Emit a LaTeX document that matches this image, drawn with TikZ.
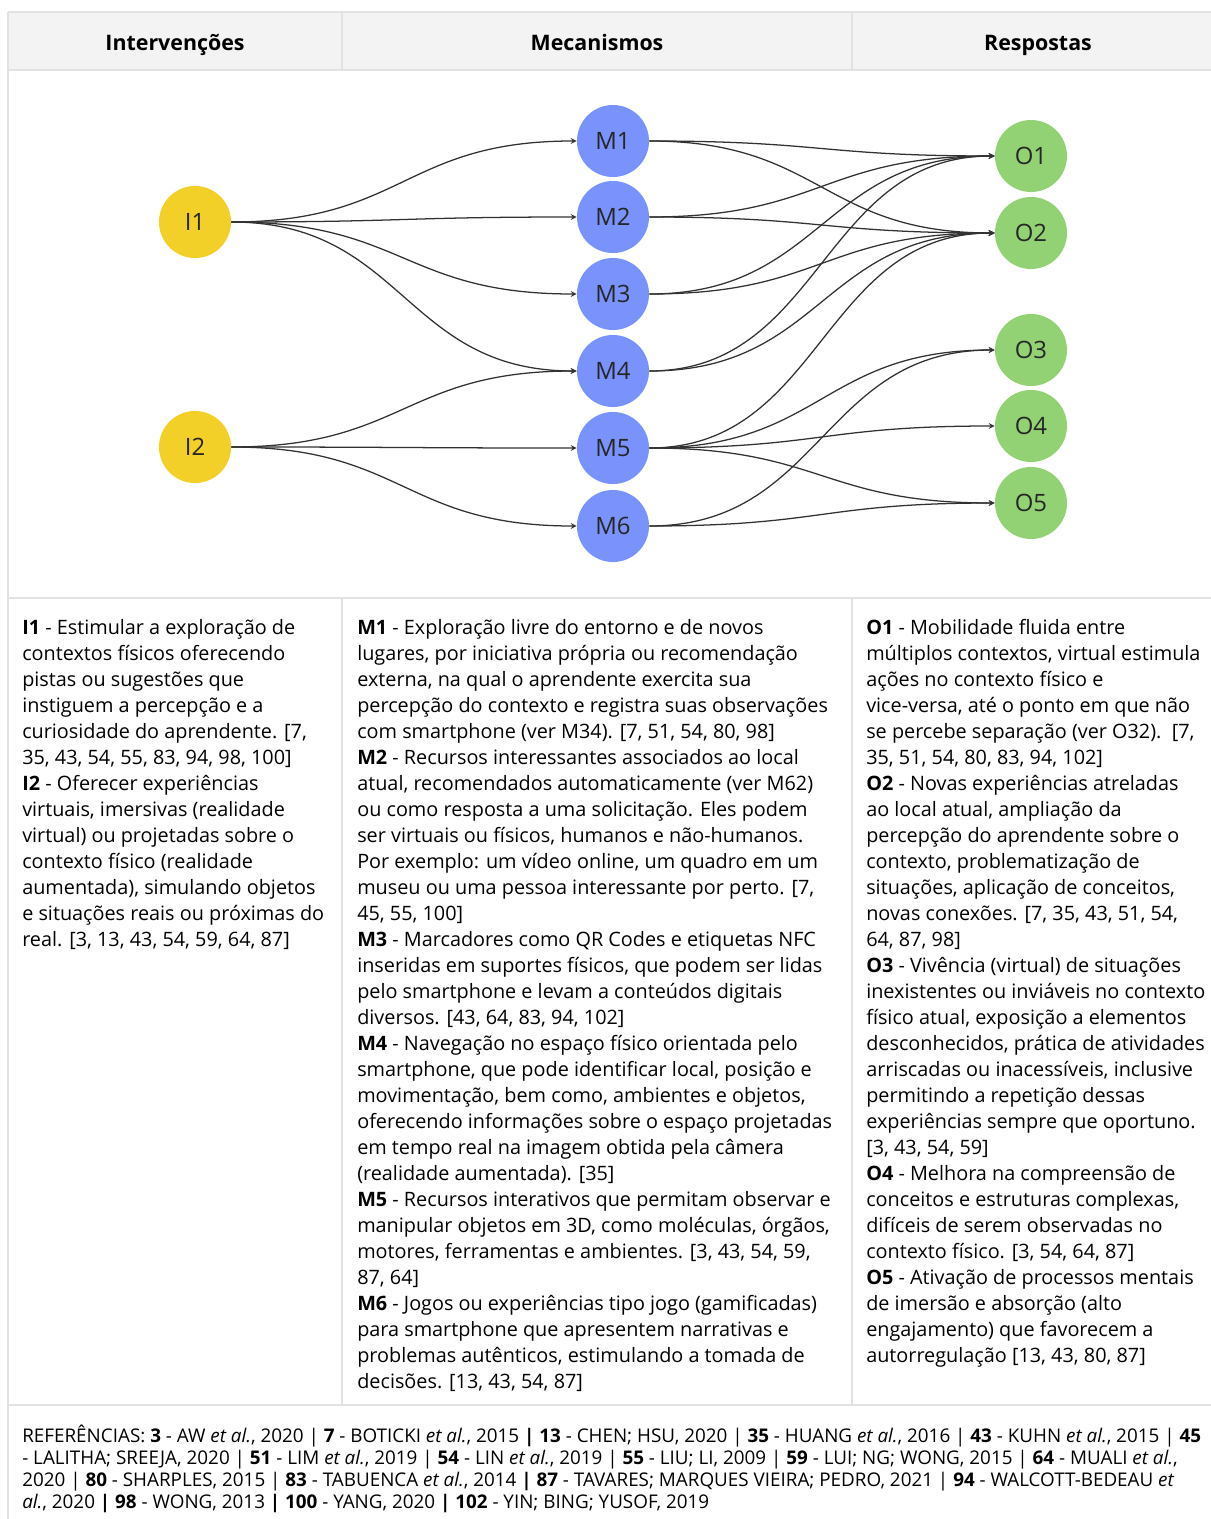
\documentclass[tikz,border=0pt]{standalone}
\usepackage{fontspec}
\setmainfont{Open Sans}
\usetikzlibrary{arrows}

\definecolor{interv}{RGB}{242,208,39}
\definecolor{mecan}{RGB}{122,146,252}
\definecolor{resp}{RGB}{147,210,116}
\definecolor{gridgray}{RGB}{226,226,226}
\definecolor{headgray}{RGB}{243,243,243}
\definecolor{linkgray}{RGB}{50,50,50}

\newcommand{\bodyfont}{\fontsize{14.1}{18.5}\selectfont}

\begin{document}
\begin{tikzpicture}[x=0.025cm,y=-0.025cm,
  bubble/.style={circle,minimum size=1.8cm,inner sep=0pt,
    font=\fontsize{17}{19}\selectfont,text=black!85},
  flow/.style={draw=linkgray,line width=0.9pt,-stealth},
  desc/.style={anchor=north west,align=left,inner sep=0pt,font=\bodyfont},
  headtxt/.style={anchor=base,font=\fontsize{15.2}{18}\selectfont\bfseries}
  ]
\useasboundingbox (0,0) rectangle (1210,1519);

% table
\fill[headgray] (8,12) rectangle (1212,70);
\draw[gridgray,line width=2pt]
  (8,12) -- (1212,12)
  (8,70) -- (1212,70)
  (8,598) -- (1212,598)
  (8,1405) -- (1212,1405)
  (8,12) -- (8,1519)
  (342,12) -- (342,70)
  (852,12) -- (852,70)
  (342,598) -- (342,1405)
  (852,598) -- (852,1405);

\node[headtxt] (h1) at (175,50) {Intervenções};
\node[headtxt] (h2) at (597,50) {Mecanismos};
\node[headtxt] (h3) at (1038,50) {Respostas};

% nodes
\node[bubble,fill=interv] (i1) at (195,222) {I1};
\node[bubble,fill=interv] (i2) at (195,447) {I2};

\node[bubble,fill=mecan] (m1) at (613,141) {M1};
\node[bubble,fill=mecan] (m2) at (613,217) {M2};
\node[bubble,fill=mecan] (m3) at (613,294) {M3};
\node[bubble,fill=mecan] (m4) at (613,371) {M4};
\node[bubble,fill=mecan] (m5) at (613,448) {M5};
\node[bubble,fill=mecan] (m6) at (613,526) {M6};

\node[bubble,fill=resp] (o1) at (1031,156) {O1};
\node[bubble,fill=resp] (o2) at (1031,233) {O2};
\node[bubble,fill=resp] (o3) at (1031,350) {O3};
\node[bubble,fill=resp] (o4) at (1031,426) {O4};
\node[bubble,fill=resp] (o5) at (1031,503) {O5};

% interventions -> mechanisms
\draw[flow] (i1.east) .. controls +(173,0) and +(-173,0) .. (m1.west);
\draw[flow] (i1.east) .. controls +(173,0) and +(-173,0) .. (m2.west);
\draw[flow] (i1.east) .. controls +(173,0) and +(-173,0) .. (m3.west);
\draw[flow] (i1.east) .. controls +(173,0) and +(-173,0) .. (m4.west);
\draw[flow] (i2.east) .. controls +(173,0) and +(-173,0) .. (m4.west);
\draw[flow] (i2.east) .. controls +(173,0) and +(-173,0) .. (m5.west);
\draw[flow] (i2.east) .. controls +(173,0) and +(-173,0) .. (m6.west);

% mechanisms -> responses
\draw[flow] (m1.east) .. controls +(173,0) and +(-173,0) .. (o1.west);
\draw[flow] (m1.east) .. controls +(173,0) and +(-173,0) .. (o2.west);
\draw[flow] (m2.east) .. controls +(173,0) and +(-173,0) .. (o1.west);
\draw[flow] (m2.east) .. controls +(173,0) and +(-173,0) .. (o2.west);
\draw[flow] (m3.east) .. controls +(173,0) and +(-173,0) .. (o1.west);
\draw[flow] (m3.east) .. controls +(173,0) and +(-173,0) .. (o2.west);
\draw[flow] (m4.east) .. controls +(173,0) and +(-173,0) .. (o1.west);
\draw[flow] (m4.east) .. controls +(173,0) and +(-173,0) .. (o2.west);
\draw[flow] (m5.east) .. controls +(173,0) and +(-173,0) .. (o2.west);
\draw[flow] (m5.east) .. controls +(173,0) and +(-173,0) .. (o3.west);
\draw[flow] (m5.east) .. controls +(173,0) and +(-173,0) .. (o4.west);
\draw[flow] (m5.east) .. controls +(173,0) and +(-173,0) .. (o5.west);
\draw[flow] (m6.east) .. controls +(173,0) and +(-173,0) .. (o3.west);
\draw[flow] (m6.east) .. controls +(173,0) and +(-173,0) .. (o5.west);

% descriptions
\node[desc] (txti) at (22,616) {\strut\textbf{I1} - Estimular a exploração de\\
contextos físicos oferecendo\\
pistas ou sugestões que\\
instiguem a percepção e a\\
curiosidade do aprendente. [7,\\
35, 43, 54, 55, 83, 94, 98, 100]\\
\textbf{I2} - Oferecer experiências\\
virtuais, imersivas (realidade\\
virtual) ou projetadas sobre o\\
contexto físico (realidade\\
aumentada), simulando objetos\\
e situações reais ou próximas do\\
real. [3, 13, 43, 54, 59, 64, 87]};

\node[desc] (txtm) at (357,616) {\strut\textbf{M1} - Exploração livre do entorno e de novos\\
lugares, por iniciativa própria ou recomendação\\
externa, na qual o aprendente exercita sua\\
percepção do contexto e registra suas observações\\
com smartphone (ver M34). [7, 51, 54, 80, 98]\\
\textbf{M2} - Recursos interessantes associados ao local\\
atual, recomendados automaticamente (ver M62)\\
ou como resposta a uma solicitação. Eles podem\\
ser virtuais ou físicos, humanos e não-humanos.\\
Por exemplo: um vídeo online, um quadro em um\\
museu ou uma pessoa interessante por perto. [7,\\
45, 55, 100]\\
\textbf{M3} - Marcadores como QR Codes e etiquetas NFC\\
inseridas em suportes físicos, que podem ser lidas\\
pelo smartphone e levam a conteúdos digitais\\
diversos. [43, 64, 83, 94, 102]\\
\textbf{M4} - Navegação no espaço físico orientada pelo\\
smartphone, que pode identificar local, posição e\\
movimentação, bem como, ambientes e objetos,\\
oferecendo informações sobre o espaço projetadas\\
em tempo real na imagem obtida pela câmera\\
(realidade aumentada). [35]\\
\textbf{M5} - Recursos interativos que permitam observar e\\
manipular objetos em 3D, como moléculas, órgãos,\\
motores, ferramentas e ambientes. [3, 43, 54, 59,\\
87, 64]\\
\textbf{M6} - Jogos ou experiências tipo jogo (gamificadas)\\
para smartphone que apresentem narrativas e\\
problemas autênticos, estimulando a tomada de\\
decisões. [13, 43, 54, 87]};

\node[desc] (txto) at (866,616) {\strut\textbf{O1} - Mobilidade fluida entre\\
múltiplos contextos, virtual estimula\\
ações no contexto físico e\\
vice-versa, até o ponto em que não\\
se percebe separação (ver O32).\ \ [7,\\
35, 51, 54, 80, 83, 94, 102]\\
\textbf{O2} - Novas experiências atreladas\\
ao local atual, ampliação da\\
percepção do aprendente sobre o\\
contexto, problematização de\\
situações, aplicação de conceitos,\\
novas conexões. [7, 35, 43, 51, 54,\\
64, 87, 98]\\
\textbf{O3} - Vivência (virtual) de situações\\
inexistentes ou inviáveis no contexto\\
físico atual, exposição a elementos\\
desconhecidos, prática de atividades\\
arriscadas ou inacessíveis, inclusive\\
permitindo a repetição dessas\\
experiências sempre que oportuno.\\
{[3, 43, 54, 59]}\\
\textbf{O4} - Melhora na compreensão de\\
conceitos e estruturas complexas,\\
difíceis de serem observadas no\\
contexto físico. [3, 54, 64, 87]\\
\textbf{O5} - Ativação de processos mentais\\
de imersão e absorção (alto\\
engajamento) que favorecem a\\
autorregulação [13, 43, 80, 87]};

% references
\node[desc,font=\fontsize{13.4}{15.6}\selectfont] (refs) at (22,1425) {\strut REFERÊNCIAS: \textbf{3} - AW \textit{et al.}, 2020 | \textbf{7} - BOTICKI \textit{et al.}, 2015 \textbf{| 13} - CHEN; HSU, 2020 | \textbf{35} - HUANG \textit{et al.}, 2016 | \textbf{43} - KUHN \textit{et al.}, 2015 | \textbf{45}\\
- LALITHA; SREEJA, 2020 | \textbf{51} - LIM \textit{et al.}, 2019 | \textbf{54} - LIN \textit{et al.}, 2019 | \textbf{55} - LIU; LI, 2009 | \textbf{59} - LUI; NG; WONG, 2015 | \textbf{64} - MUALI \textit{et al.},\\
2020 | \textbf{80} - SHARPLES, 2015 | \textbf{83} - TABUENCA \textit{et al.}, 2014 \textbf{| 87} - TAVARES; MARQUES VIEIRA; PEDRO, 2021 | \textbf{94} - WALCOTT-BEDEAU \textit{et}\\
\textit{al.}, 2020 \textbf{| 98} - WONG, 2013 \textbf{| 100} - YANG, 2020 \textbf{| 102} - YIN; BING; YUSOF, 2019};
\end{tikzpicture}
\end{document}
